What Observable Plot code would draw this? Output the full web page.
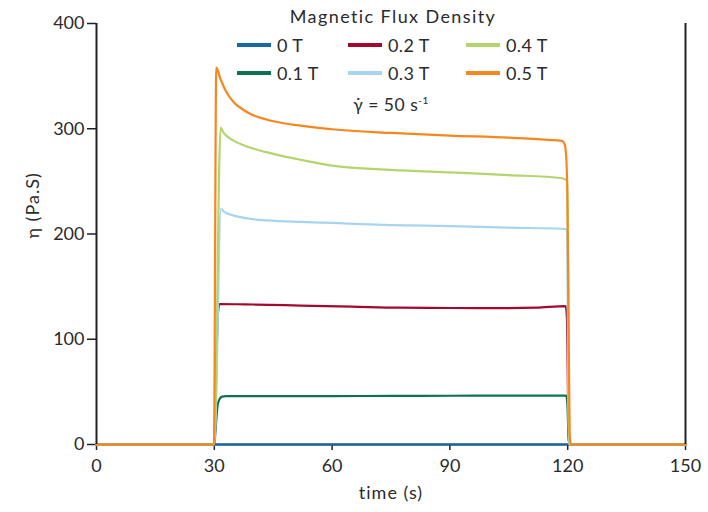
<!DOCTYPE html>
<html>
<head>
<meta charset="utf-8">
<script src="https://cdn.jsdelivr.net/npm/d3@7"></script>
<script src="https://cdn.jsdelivr.net/npm/@observablehq/plot@0.6"></script>
<style>
  html, body { margin: 0; padding: 0; background: #fff; }
  #wrap { position: relative; width: 708px; height: 512px; font-family: Lato, "Open Sans", sans-serif; font-weight: 400; color: #2b2b2b; }
  #legend { position: absolute; left: 0; top: 0; width: 708px; height: 120px; pointer-events: none; }
  .ltitle { position: absolute; left: 393px; top: 5px; transform: translateX(-50%); font-size: 18px; white-space: nowrap; letter-spacing: 1.4px; }
  .item { position: absolute; display: flex; align-items: center; font-size: 18px; white-space: nowrap; letter-spacing: 0.4px; }
  .sw { width: 34px; height: 4px; margin-right: 6px; }
  .rate { position: absolute; left: 391px; top: 94px; transform: translateX(-50%); font-size: 17.5px; white-space: nowrap; letter-spacing: 0.5px; }
  .rate sup { font-size: 10px; }
</style>
</head>
<body>
<div id="wrap"></div>
<script>
// Series names and colours
const seriesNames = ["0 T", "0.1 T", "0.2 T", "0.3 T", "0.4 T", "0.5 T"];
const seriesColors = ["#1469a8", "#0b7252", "#a3092e", "#a8d5ee", "#b5d46c", "#f7861f"];

// Time (s) and viscosity (Pa.s) per series
const t0 = [0, 30, 120, 150];
const v0 = [0, 0, 0, 0];

const t1 = [0, 30, 30.4, 30.8, 31.3, 32, 33, 45, 60, 75, 90, 105, 119.6, 119.9, 120.3, 150];
const v1 = [0, 0, 18, 36, 43, 45.5, 46, 46, 46, 46.2, 46.3, 46.5, 46.5, 40, 0, 0];

const t2 = [0, 30, 30.6, 31.0, 31.3, 40, 52, 65, 77, 90, 103, 112, 119.5, 119.8, 120.3, 150];
const v2 = [0, 0, 90, 128, 133.5, 133, 132, 131, 130, 129.7, 129.5, 130, 131.5, 120, 0, 0];

const t3 = [0, 30, 31.7, 32.5, 35, 39, 43.5, 52, 60, 75, 90, 105, 118.5, 119.8, 120.3, 150];
const v3 = [0, 0, 224, 221, 217.5, 214.5, 213, 211.5, 210.5, 208.5, 207.5, 206, 205, 204.5, 0, 0];

const t4 = [0, 30, 31.6, 32.4, 33.5, 35, 37, 39.2, 43.5, 48, 52, 60, 75, 90, 105, 118.6, 119.9, 120.4, 150];
const v4 = [0, 0, 301, 296, 292, 288.5, 285, 282, 277.5, 273.5, 270.5, 265, 261, 258.5, 256, 253, 250, 0, 0];

const t5 = [0, 29.9, 30.5, 31.6, 32.9, 35, 37, 39.2, 43.5, 48, 52, 60, 75, 90, 105, 115, 118.5, 118.9, 119.3, 119.6, 119.9, 120.2, 120.5, 120.8, 150];
const v5 = [0, 0, 358, 347, 336, 325, 319, 314, 308.5, 305, 303, 299.5, 296, 293.5, 291.5, 289.5, 288.5, 287.5, 284, 275, 240, 130, 10, 0, 0];

const xTicks = [0, 30, 60, 90, 120, 150];
const yTicks = [0, 100, 200, 300, 400];

const legendTitle = "Magnetic Flux Density";
const xLabel = "time (s)";
const yLabel = "η (Pa.S)";

const times = [t0, t1, t2, t3, t4, t5];
const vals = [v0, v1, v2, v3, v4, v5];
const data = [];
seriesNames.forEach((s, i) => {
  times[i].forEach((t, j) => data.push({s, t, v: vals[i][j]}));
});

const ink = "#222";
const txt = "#2b2b2b";
const plot = Plot.plot({
  width: 708,
  height: 512,
  marginLeft: 96,
  marginRight: 23,
  marginTop: 23,
  marginBottom: 68,
  style: {fontFamily: "Lato, 'Open Sans', sans-serif", fontWeight: 400, fontSize: "18px", color: txt, background: "#fff"},
  x: {domain: [0, 150]},
  y: {domain: [0, 400]},
  color: {domain: seriesNames, range: seriesColors},
  marks: [
    Plot.axisX({ticks: xTicks, tickSize: 6, tickPadding: 9, label: null, stroke: ink, strokeWidth: 1.5, fontSize: 18, fill: txt}),
    Plot.axisY({ticks: yTicks, tickSize: 9, tickPadding: 3, label: null, stroke: ink, strokeWidth: 1.5, fontSize: 18, fill: txt}),
    Plot.ruleY([0], {stroke: ink, strokeWidth: 2}),
    Plot.line(data, {x: "t", y: "v", z: "s", stroke: "s", strokeWidth: 2.2, strokeLinejoin: "round", curve: "monotone-x"}),
    Plot.ruleX([0, 150], {stroke: ink, strokeWidth: 2}),
    Plot.text([xLabel], {frameAnchor: "bottom", dy: 54, fontSize: 18, fill: txt}),
    Plot.text([yLabel], {frameAnchor: "left", dx: -63, dy: 4.5, rotate: -90, fontSize: 18, fill: txt})
  ]
});

const wrap = document.getElementById("wrap");
wrap.appendChild(plot);
plot.querySelectorAll("text").forEach(t => {
  if (t.textContent === xLabel || t.textContent === yLabel) t.style.letterSpacing = "1px";
});

// Legend overlay
const legend = document.createElement("div");
legend.id = "legend";
const title = document.createElement("div");
title.className = "ltitle";
title.textContent = legendTitle;
legend.appendChild(title);
const colX = [237, 348, 466];
const rowY = [45, 73];
seriesNames.forEach((s, i) => {
  const col = Math.floor(i / 2), row = i % 2;
  const it = document.createElement("div");
  it.className = "item";
  it.style.left = colX[col] + "px";
  it.style.top = (rowY[row] - 12) + "px";
  it.style.height = "24px";
  const sw = document.createElement("span");
  sw.className = "sw";
  sw.style.background = seriesColors[i];
  const lab = document.createElement("span");
  lab.textContent = s;
  it.appendChild(sw);
  it.appendChild(lab);
  legend.appendChild(it);
});
const rate = document.createElement("div");
rate.className = "rate";
rate.innerHTML = "γ\u0307 = 50 s<sup>-1</sup>";
legend.appendChild(rate);
wrap.appendChild(legend);
</script>
</body>
</html>
